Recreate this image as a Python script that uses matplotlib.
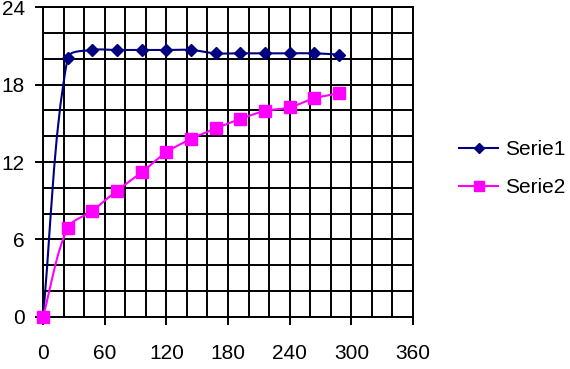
import numpy as np
import matplotlib
matplotlib.use("Agg")
import matplotlib.pyplot as plt
from matplotlib.path import Path
from matplotlib.patches import PathPatch
from matplotlib.lines import Line2D
from matplotlib.ticker import MultipleLocator

plt.rcParams['font.family'] = ['Liberation Sans', 'DejaVu Sans']

x_vals = [0, 24, 48, 72, 96, 120, 144, 168, 192, 216, 240, 264, 288]
serie1 = [0, 20.07, 20.69, 20.69, 20.69, 20.69, 20.69, 20.43, 20.43, 20.43, 20.43, 20.43, 20.33]
serie2 = [0, 6.86, 8.22, 9.78, 11.2, 12.75, 13.79, 14.6, 15.34, 15.96, 16.24, 16.94, 17.33]
names = ["Serie1", "Serie2"]
colors = ["#000080", "#FF00FF"]
markers = ["D", "s"]
msizes = [6, 8]

def smooth_path(ax, xs, ys):
    # bezier through the points, tangents scaled by segment lengths (screen space)
    P = ax.transData.transform(np.column_stack([xs, ys]))
    n = len(P)
    verts = [P[0]]; codes = [Path.MOVETO]
    for i in range(n - 1):
        p0 = P[i - 1] if i > 0 else P[i]
        p1, p2 = P[i], P[i + 1]
        p3 = P[i + 2] if i + 2 < n else P[i + 1]
        l01 = np.hypot(*(p1 - p0)); l12 = np.hypot(*(p2 - p1)); l23 = np.hypot(*(p3 - p2))
        c1 = p1 + (p2 - p0) * (l12 / (l01 + l12)) / 3 if i > 0 else p1 + (p2 - p1) / 3
        c2 = p2 - (p3 - p1) * (l12 / (l12 + l23)) / 3 if i + 2 < n else p2 - (p2 - p1) / 3
        verts += [c1, c2, p2]; codes += [Path.CURVE4] * 3
    inv = ax.transData.inverted()
    return Path(inv.transform(np.array(verts)), codes)

fig = plt.figure(figsize=(5.7, 3.69), dpi=100)
ax = fig.add_axes([0.0754, 0.1417, 0.6492, 0.8385])
ax.set_xlim(0, 360); ax.set_ylim(0, 24)
ax.xaxis.set_major_locator(MultipleLocator(60)); ax.xaxis.set_minor_locator(MultipleLocator(20))
ax.yaxis.set_major_locator(MultipleLocator(6)); ax.yaxis.set_minor_locator(MultipleLocator(2))
ax.grid(True, which='both', color='black', lw=1.4, zorder=0)
ax.set_axisbelow(True)
ax.tick_params(which='minor', length=0)
ax.tick_params(axis='x', which='major', length=6, width=1.4, pad=14, labelsize=15)
ax.tick_params(axis='y', which='major', length=6, width=1.4, pad=7, labelsize=15)
for s in ax.spines.values():
    s.set_linewidth(1.4); s.set_color('black')

handles = []
for ys, name, c, m, ms in zip([serie1, serie2], names, colors, markers, msizes):
    ax.add_patch(PathPatch(smooth_path(ax, x_vals, ys), fill=False, edgecolor=c, lw=1.5, zorder=3))
    ax.plot(x_vals, ys, ls='none', marker=m, ms=ms, color=c, zorder=4, clip_on=False)
    handles.append(Line2D([], [], color=c, lw=1.5, marker=m, ms=ms * 0.9))

fig.legend(handles, names, loc='center left', bbox_to_anchor=(0.805, 0.543), frameon=False,
           fontsize=15, borderpad=0, borderaxespad=0, handlelength=1.9, handletextpad=0.3,
           labelspacing=0.9)
fig.savefig("out.png", dpi=100)
